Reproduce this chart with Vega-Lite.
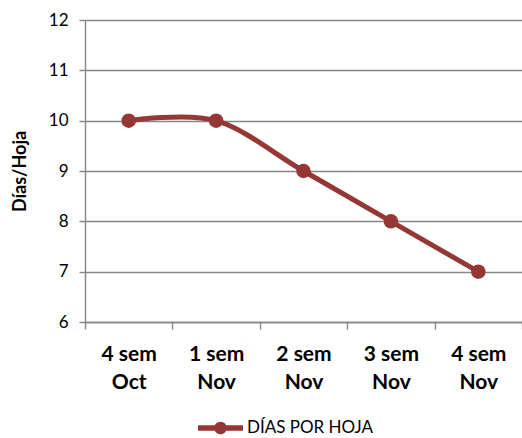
{
  "$schema": "https://vega.github.io/schema/vega-lite/v6.json",
  "width": 437,
  "height": 302,
  "autosize": {"type": "none"},
  "padding": {"left": 85, "top": 20, "right": 0, "bottom": 116},
  "background": "white",
  "config": {"view": {"stroke": null}, "font": "Lato"},
  "data": {
    "values": [
      {"semana": "4 sem Oct", "dias": 10, "serie": "DÍAS POR HOJA"},
      {"semana": "1 sem Nov", "dias": 10, "serie": "DÍAS POR HOJA"},
      {"semana": "2 sem Nov", "dias": 9, "serie": "DÍAS POR HOJA"},
      {"semana": "3 sem Nov", "dias": 8, "serie": "DÍAS POR HOJA"},
      {"semana": "4 sem Nov", "dias": 7, "serie": "DÍAS POR HOJA"}
    ]
  },
  "encoding": {
    "x": {
      "field": "semana",
      "type": "ordinal",
      "sort": null,
      "bandPosition": 0.5,
      "scale": {"type": "band", "paddingInner": 0, "paddingOuter": 0},
      "axis": {
        "title": null,
        "labelAngle": 0,
        "tickBand": "extent",
        "grid": false,
        "domainColor": "#868686",
        "domainWidth": 1.4,
        "tickColor": "#868686",
        "tickWidth": 1.4,
        "tickSize": 7,
        "labelFont": "Lato",
        "labelFontSize": 21,
        "labelFontWeight": "bold",
        "labelColor": "#000000",
        "labelPadding": 14,
        "labelBaseline": "top",
        "labelLineHeight": 28,
        "labelExpr": "[slice(datum.label, 0, 5), slice(datum.label, 6)]"
      }
    },
    "y": {
      "field": "dias",
      "type": "quantitative",
      "scale": {"domain": [6, 12], "nice": false, "zero": false},
      "axis": {
        "title": "Días/Hoja",
        "values": [6, 7, 8, 9, 10, 11, 12],
        "grid": true,
        "gridColor": "#868686",
        "gridWidth": 1.4,
        "domainColor": "#868686",
        "domainWidth": 1.4,
        "tickColor": "#868686",
        "tickWidth": 1.4,
        "tickSize": 6,
        "labelFont": "Lato",
        "labelFontSize": 17,
        "labelColor": "#000000",
        "labelPadding": 11,
        "titleFont": "Lato",
        "titleFontSize": 18,
        "titleFontWeight": "bold",
        "titleColor": "#000000",
        "titleAngle": -90,
        "titleAlign": "center",
        "titleBaseline": "alphabetic",
        "titleX": -60,
        "titleY": 151
      }
    }
  },
  "layer": [
    {
      "mark": {"type": "line", "color": "#953735", "strokeWidth": 5, "interpolate": "cardinal"}
    },
    {
      "mark": {"type": "point", "filled": true, "opacity": 1, "size": 210},
      "encoding": {
        "fill": {
          "field": "serie",
          "type": "nominal",
          "scale": {"range": ["#953735"]},
          "legend": {
            "title": null,
            "orient": "none",
            "legendX": 113,
            "legendY": 385.5,
            "padding": 0,
            "symbolType": "M-1,-0.12L1,-0.12L1,0.12L-1,0.12Z M-0.28,0A0.28,0.28 0 1,1 0.28,0A0.28,0.28 0 1,1 -0.28,0Z",
            "symbolSize": 2025,
            "symbolStrokeWidth": 0,
            "symbolFillColor": "#953735",
            "symbolOpacity": 1,
            "labelFont": "Lato",
            "labelFontSize": 17,
            "labelColor": "#000000",
            "labelOffset": 4
          }
        }
      }
    }
  ]
}
